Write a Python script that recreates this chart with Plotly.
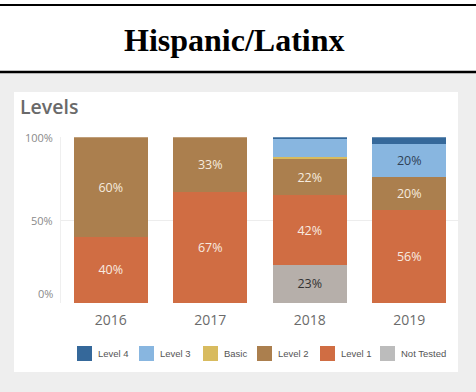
import plotly.graph_objects as go

W, H = 476, 392

# ---- data -------------------------------------------------------------
years = ["2016", "2017", "2018", "2019"]
series_names = ["Not Tested", "Level 1", "Level 2", "Basic", "Level 3", "Level 4"]
not_tested = [0, 0, 23, 0]
level_1 = [40, 67, 42, 56]
level_2 = [60, 33, 22, 20]
basic = [0, 0, 1, 0]
level_3 = [0, 0, 11, 20]
level_4 = [0, 0, 1, 4]
series_values = [not_tested, level_1, level_2, basic, level_3, level_4]
y_tick_values = [0, 50, 100]
y_tick_labels = ["0%", "50%", "100%"]
legend_order = ["Level 4", "Level 3", "Basic", "Level 2", "Level 1", "Not Tested"]

# ---- styles -----------------------------------------------------------
colors = {
    "Level 4": "#35689a",
    "Level 3": "#88b6e0",
    "Basic": "#d8bb5f",
    "Level 2": "#ab7f4e",
    "Level 1": "#d06d43",
    "Not Tested": "#b6afaa",
}
legend_colors = dict(colors, **{"Not Tested": "#bcbcbc"})
label_colors = {
    "Level 4": "#f4ece4",
    "Level 3": "#2f4257",
    "Basic": "#333333",
    "Level 2": "#f6ebdf",
    "Level 1": "#f8ebe0",
    "Not Tested": "#333333",
}
LABEL_MIN = 15


def px_x(x):
    return x / W


def px_y(y):
    return 1 - y / H


fig = go.Figure()

for name, vals in zip(series_names, series_values):
    fig.add_trace(go.Bar(
        x=years,
        y=vals,
        name=name,
        marker=dict(color=colors[name], line=dict(width=0)),
        text=[f"{v}%" if v >= LABEL_MIN else "" for v in vals],
        textposition="inside",
        insidetextanchor="middle",
        textangle=0,
        textfont=dict(family="Open Sans", size=12.5, color=label_colors[name]),
        hoverinfo="skip",
        showlegend=False,
    ))

shapes = [
    # grey panel and white card
    dict(type="rect", xref="paper", yref="paper", x0=0, x1=1,
         y0=px_y(H), y1=px_y(73), fillcolor="#eeeeee", line=dict(width=0), layer="below"),
    dict(type="rect", xref="paper", yref="paper", x0=px_x(14), x1=px_x(458),
         y0=px_y(372), y1=px_y(92), fillcolor="#ffffff", line=dict(width=0), layer="below"),
    # header rules
    dict(type="line", xref="paper", yref="paper", x0=0, x1=1,
         y0=px_y(5), y1=px_y(5), line=dict(color="#000000", width=2)),
    dict(type="line", xref="paper", yref="paper", x0=0, x1=1,
         y0=px_y(72), y1=px_y(72), line=dict(color="#000000", width=2.5)),
]

annotations = [
    dict(text="Hispanic/Latinx", xref="paper", yref="paper", x=px_x(234), y=px_y(40),
         xanchor="center", yanchor="middle", showarrow=False,
         font=dict(family="Liberation Serif", size=32, color="#000000", weight="bold")),
    dict(text="Levels", xref="paper", yref="paper", x=px_x(18), y=px_y(106.5),
         xanchor="left", yanchor="middle", showarrow=False,
         font=dict(family="Open Sans", size=19.5, color="#6a6a6a", weight=600)),
]

# y-axis tick labels; the bottom one sits just above the baseline
for v, lab in zip(y_tick_values, y_tick_labels):
    annotations.append(dict(text=lab, xref="paper", yref="y", x=px_x(55), y=v,
                            xanchor="right",
                            yanchor="bottom" if v == min(y_tick_values) else "middle",
                            showarrow=False,
                            font=dict(family="Open Sans", size=11, color="#8a8a8a")))

# legend drawn as swatches + labels along the card bottom
legend_x = [77, 139, 203, 257, 320, 380]
sw = 15
for name, lx in zip(legend_order, legend_x):
    shapes.append(dict(type="rect", xref="paper", yref="paper",
                       x0=px_x(lx), x1=px_x(lx + sw), y0=px_y(361), y1=px_y(346),
                       fillcolor=legend_colors[name], line=dict(width=0)))
    annotations.append(dict(text=name, xref="paper", yref="paper",
                            x=px_x(lx + sw + 4), y=px_y(353.5),
                            xanchor="left", yanchor="middle", showarrow=False,
                            font=dict(family="Liberation Sans", size=9.5, color="#555555")))

fig.update_layout(
    width=W, height=H,
    margin=dict(l=0, r=0, t=0, b=0),
    paper_bgcolor="#ffffff",
    plot_bgcolor="rgba(0,0,0,0)",
    barmode="stack",
    bargap=0.255,
    shapes=shapes,
    annotations=annotations,
    showlegend=False,
    xaxis=dict(
        domain=[px_x(61), px_x(459)],
        showgrid=False, showline=False, zeroline=False, ticks="",
        tickfont=dict(family="Open Sans", size=14, color="#6b6b6b"),
        ticklabelstandoff=7,
        fixedrange=True,
    ),
    yaxis=dict(
        domain=[px_y(303), px_y(137.3)],
        range=[0, 100],
        tickvals=y_tick_values,
        showticklabels=False,
        showgrid=True, gridcolor="#ededed", gridwidth=1,
        zeroline=False, showline=True, linecolor="#efefef", linewidth=1,
        ticks="",
        fixedrange=True,
    ),
)

fig.write_html("out.html", config={"displayModeBar": False})
